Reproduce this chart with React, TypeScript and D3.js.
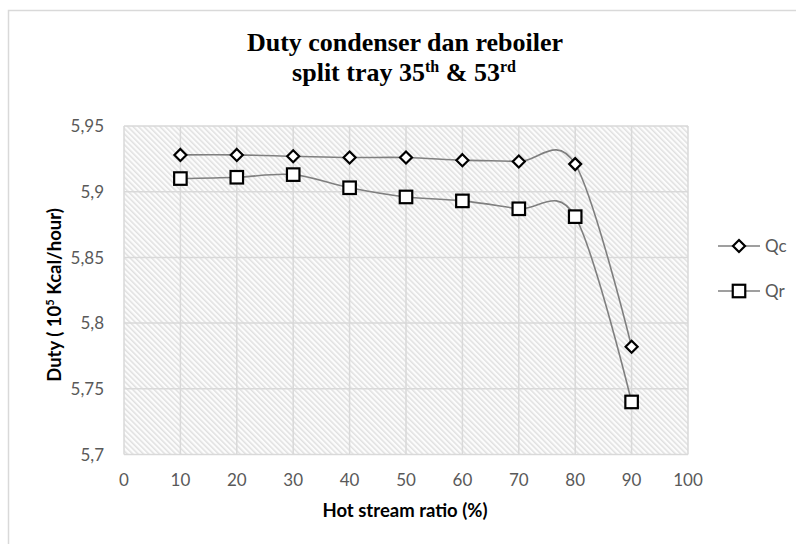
import React from "react";
import * as d3 from "d3";

const WIDTH = 796;
const HEIGHT = 544;

// hot stream ratio (%)
const ratios = [10, 20, 30, 40, 50, 60, 70, 80, 90];
// duty, 10^5 Kcal/hour
const qcValues = [5.928, 5.928, 5.927, 5.926, 5.926, 5.924, 5.923, 5.921, 5.782];
const qrValues = [5.91, 5.911, 5.913, 5.903, 5.896, 5.893, 5.887, 5.881, 5.74];
const xTicks = [0, 10, 20, 30, 40, 50, 60, 70, 80, 90, 100];
const yTicks = [5.7, 5.75, 5.8, 5.85, 5.9, 5.95];

const FONT = "Lato, 'Open Sans', sans-serif";
const TICK_COLOR = "#595959";
const GRID_COLOR = "#d9d9d9";

const fmt = (v: number) => String(v).replace(".", ",");

function Diamond({ x, y, r = 6 }: { x: number; y: number; r?: number }) {
  return (
    <path
      d={`M${x},${y - r}L${x + r},${y}L${x},${y + r}L${x - r},${y}Z`}
      fill="#fff"
      stroke="#000"
      strokeWidth={2.2}
    />
  );
}

function Square({ x, y, s = 12.5 }: { x: number; y: number; s?: number }) {
  return (
    <rect
      x={x - s / 2}
      y={y - s / 2}
      width={s}
      height={s}
      fill="#fff"
      stroke="#000"
      strokeWidth={2.2}
    />
  );
}

export default function App() {
  const xScale = d3.scaleLinear().domain([0, 100]).range([124, 688]);
  const yScale = d3.scaleLinear().domain([5.7, 5.95]).range([454.5, 126]);

  const line = d3
    .line<number>()
    .x((d, i) => xScale(ratios[i]))
    .y((d) => yScale(d))
    .curve(d3.curveCardinal.tension(0));

  const [x0, x1] = xScale.range();
  const [y0, y1] = yScale.range();

  const legend = [
    { name: "Qc", y: 246, kind: "diamond" },
    { name: "Qr", y: 291, kind: "square" },
  ];

  return (
    <svg
      width={WIDTH}
      height={HEIGHT}
      style={{ position: "absolute", left: 0, top: 0 }}
      fontFamily={FONT}
    >
      <defs>
        <pattern
          id="hatch"
          patternUnits="userSpaceOnUse"
          width={3.8}
          height={3.8}
          patternTransform="rotate(-45)"
        >
          <rect width={3.8} height={3.8} fill="#fcfcfc" />
          <rect width={1.5} height={3.8} fill="#e0e0e0" />
        </pattern>
      </defs>

      <rect width={WIDTH} height={HEIGHT} fill="#fff" />
      {/* chart area border */}
      <rect x={8.5} y={10.5} width={800} height={560} fill="none" stroke={GRID_COLOR} strokeWidth={1.5} />

      {/* title */}
      <text x={405} y={51} textAnchor="middle" fontFamily="'Liberation Serif', serif" fontWeight="bold" fontSize={26} fill="#000">
        Duty condenser dan reboiler
      </text>
      <text x={404} y={81} textAnchor="middle" fontFamily="'Liberation Serif', serif" fontWeight="bold" fontSize={26} fill="#000">
        split tray 35
        <tspan fontSize={16} dy={-9}>th</tspan>
        <tspan dy={9}> &amp; 53</tspan>
        <tspan fontSize={16} dy={-9}>rd</tspan>
      </text>

      {/* plot area */}
      <rect x={x0} y={y1} width={x1 - x0} height={y0 - y1} fill="url(#hatch)" />
      <g stroke={GRID_COLOR} strokeWidth={1.5}>
        {yTicks.map((t) => (
          <line key={`h${t}`} x1={x0} x2={x1} y1={yScale(t)} y2={yScale(t)} />
        ))}
        {xTicks.map((t) => (
          <line key={`v${t}`} x1={xScale(t)} x2={xScale(t)} y1={y1} y2={y0} />
        ))}
      </g>

      {/* tick labels */}
      <g fontSize={17} fill={TICK_COLOR}>
        {yTicks.map((t) => (
          <text key={`yl${t}`} x={104} y={yScale(t)} dy="0.36em" textAnchor="end">
            {fmt(t)}
          </text>
        ))}
        {xTicks.map((t) => (
          <text key={`xl${t}`} x={xScale(t)} y={486} textAnchor="middle">
            {t}
          </text>
        ))}
      </g>

      {/* axis titles */}
      <text x={405} y={517} textAnchor="middle" fontWeight="bold" fontSize={18.5} fill="#000">
        Hot stream ratio (%)
      </text>
      <text transform="translate(61,295) rotate(-90)" textAnchor="middle" fontWeight="bold" fontSize={18.5} fill="#000">
        Duty ( 10<tspan fontSize={11} dy={-7}>5</tspan>
        <tspan dy={7}> Kcal/hour)</tspan>
      </text>

      {/* series */}
      <path d={line(qcValues) || ""} fill="none" stroke="#7f7f7f" strokeWidth={1.6} />
      <path d={line(qrValues) || ""} fill="none" stroke="#7f7f7f" strokeWidth={1.6} />
      {qcValues.map((v, i) => (
        <Diamond key={`c${i}`} x={xScale(ratios[i])} y={yScale(v)} />
      ))}
      {qrValues.map((v, i) => (
        <Square key={`r${i}`} x={xScale(ratios[i])} y={yScale(v)} />
      ))}

      {/* legend */}
      {legend.map((l) => (
        <g key={l.name}>
          <line x1={718} x2={760} y1={l.y} y2={l.y} stroke="#7f7f7f" strokeWidth={1.6} />
          {l.kind === "diamond" ? <Diamond x={739} y={l.y} /> : <Square x={739} y={l.y} />}
          <text x={765} y={l.y} dy="0.36em" fontSize={17} fill={TICK_COLOR}>
            {l.name}
          </text>
        </g>
      ))}
    </svg>
  );
}
